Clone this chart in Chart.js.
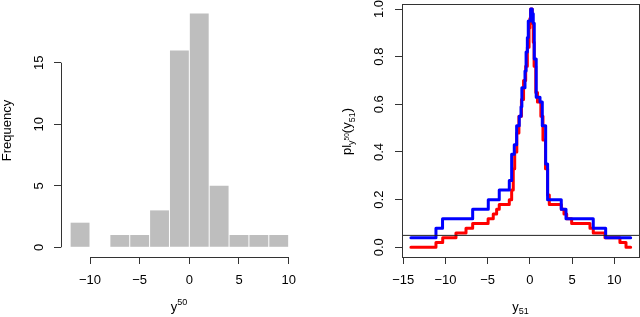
<!DOCTYPE html>
<html>
<head>
<meta charset="utf-8">
<script src="https://cdn.jsdelivr.net/npm/chart.js@4.4.0/dist/chart.umd.min.js"></script>
<style>
  body { margin: 0; background: #fff; }
  #wrap { position: relative; width: 640px; height: 317px; }
  canvas { position: absolute; top: 0; }
</style>
</head>
<body>
<div id="wrap">
  <canvas id="hist" width="320" height="317" style="left:0"></canvas>
  <canvas id="pl" width="320" height="317" style="left:320px"></canvas>
</div>
<script>
// left panel: histogram of y^50
const binEdges = [-12, -10, -8, -6, -4, -2, 0, 2, 4, 6, 8, 10];
const binCounts = [2, 0, 1, 1, 3, 16, 19, 5, 1, 1, 1];
const histXTicks = [-10, -5, 0, 5, 10];
const histYTicks = [0, 5, 10, 15];

// right panel: step curves, each level starts at x[i]
const blueX = [-14.1, -11.13, -10.35, -6.78, -4.93, -3.63, -2.44, -2.16, -1.85, -1.57, -1.26, -1.05, -0.95,
  -0.58, -0.45, -0.3, -0.19, 0.09, 0.28, 0.4, 0.52, 0.75, 1.2, 1.47, 1.87, 2.1, 3.72, 4.28, 7.51, 8.98, 11.94];
const blueY = [0.04, 0.08, 0.12, 0.16, 0.2, 0.24, 0.28, 0.39, 0.43, 0.51, 0.55, 0.59, 0.67,
  0.74, 0.82, 0.88, 0.95, 1.0, 0.98, 0.94, 0.79, 0.63, 0.61, 0.51, 0.35, 0.2, 0.16, 0.12, 0.08, 0.04, 0.04];
const redX = [-14.1, -11.13, -10.33, -8.76, -7.57, -6.78, -4.95, -4.34, -3.94, -3.63, -2.44, -2.16, -1.97,
  -1.8, -1.55, -1.3, -1.0, -0.75, -0.5, -0.3, -0.1, 0.0, 0.09, 0.28, 0.4, 0.5, 0.7, 0.9, 1.3, 1.55, 1.85,
  2.1, 2.3, 3.72, 4.04, 4.36, 4.95, 7.12, 7.51, 8.9, 10.67, 11.39, 11.94];
const redY = [0, 0.02, 0.04, 0.06, 0.08, 0.1, 0.12, 0.14, 0.16, 0.18, 0.2, 0.24, 0.33,
  0.4, 0.48, 0.55, 0.62, 0.7, 0.76, 0.84, 0.92, 0.96, 1.0, 0.94, 0.86, 0.76, 0.65, 0.61, 0.55, 0.45, 0.33,
  0.22, 0.18, 0.16, 0.14, 0.12, 0.1, 0.08, 0.06, 0.04, 0.02, 0, 0];
const threshold = 0.05;
const plXTicks = [-15, -10, -5, 0, 5, 10];
const plYTicks = [0, 0.2, 0.4, 0.6, 0.8, 1.0];

// axis ranges (R style 4% padding)
const histXRange = [-12.92, 10.84], histYRange = [-0.788, 19.77];
const plXRange = [-15.154, 12.93], plYRange = [-0.0407, 1.021];

Chart.defaults.font.family = "'Liberation Sans', Arial, Helvetica, sans-serif";
Chart.defaults.font.size = 13;
Chart.defaults.color = '#000';

const AXIS = '#333';
const minus = v => (v < 0 ? '\u2212' + Math.abs(v) : String(v));
const align = p => Math.round(p - 0.5) + 0.5;

// R draws the axis line only from first to last tick, or a full box
const rAxes = {
  id: 'rAxes',
  afterDraw(chart, args, opts) {
    const {ctx, chartArea: a} = chart;
    const x = chart.scales.x, y = chart.scales.y;
    ctx.save();
    ctx.strokeStyle = AXIS;
    ctx.fillStyle = AXIS;
    ctx.lineWidth = 1;
    if (opts.box) {
      ctx.strokeRect(align(a.left), align(a.top), align(a.right) - align(a.left), align(a.bottom) - align(a.top));
    } else {
      const xa = x.getPixelForValue(histXTicks[0]);
      const xb = x.getPixelForValue(histXTicks[histXTicks.length - 1]);
      const ya = y.getPixelForValue(histYTicks[0]);
      const yb = y.getPixelForValue(histYTicks[histYTicks.length - 1]);
      ctx.fillRect(xa, Math.round(a.bottom), xb - xa, 1);
      ctx.fillRect(Math.round(a.left), Math.min(ya, yb), 1, Math.abs(ya - yb));
    }
    ctx.restore();
  }
};

// axis titles with sub/superscripts: parts = [text, size, dy]
const richTitles = {
  id: 'richTitles',
  afterDraw(chart, args, opts) {
    const {ctx, chartArea: a} = chart;
    const fam = Chart.defaults.font.family;
    (opts.items || []).forEach(it => {
      ctx.save();
      ctx.fillStyle = '#000';
      ctx.textBaseline = 'alphabetic';
      ctx.textAlign = 'left';
      const ws = it.parts.map(p => { ctx.font = p[1] + 'px ' + fam; return ctx.measureText(p[0]).width; });
      const total = ws.reduce((s, w) => s + w, 0);
      if (it.vertical) {
        ctx.translate(a.left - it.offset, (a.top + a.bottom) / 2 + (it.shift || 0));
        ctx.rotate(-Math.PI / 2);
      } else {
        ctx.translate((a.left + a.right) / 2, it.baseline);
      }
      let cx = -total / 2;
      it.parts.forEach((p, i) => {
        ctx.font = p[1] + 'px ' + fam;
        ctx.fillText(p[0], cx, p[2]);
        cx += ws[i];
      });
      ctx.restore();
    });
  }
};

function fixedScale(size, isX) {
  return s => {
    if (isX) s.height = size; else s.width = size;
    s.paddingTop = s.paddingBottom = s.paddingLeft = s.paddingRight = 0;
  };
}
const setTicks = list => s => { s.ticks = list.map(v => ({value: v})); };
const tickGrid = {drawOnChartArea: false, drawTicks: true, tickLength: 7, color: AXIS, lineWidth: 1, offset: false};

new Chart(document.getElementById('hist'), {
  type: 'bar',
  data: {
    datasets: [{
      data: binCounts.map((c, i) => ({x: (binEdges[i] + binEdges[i + 1]) / 2, y: c})),
      backgroundColor: '#bebebe',
      borderWidth: 0,
      barPercentage: 0.95,
      categoryPercentage: 1
    }]
  },
  options: {
    responsive: false,
    animation: false,
    layout: {padding: {top: 4, right: 23, bottom: 0, left: 0}},
    plugins: {
      legend: {display: false},
      tooltip: {enabled: false},
      rAxes: {box: false},
      richTitles: {items: [{parts: [['y', 13, 0], ['50', 9, -6]], baseline: 310.5}]}
    },
    scales: {
      x: {
        type: 'linear', offset: false, min: histXRange[0], max: histXRange[1],
        afterBuildTicks: setTicks(histXTicks), afterFit: fixedScale(60, true),
        grid: tickGrid, border: {display: false},
        ticks: {padding: 9, autoSkip: false, maxRotation: 0, callback: minus}
      },
      y: {
        min: histYRange[0], max: histYRange[1],
        afterBuildTicks: setTicks(histYTicks), afterFit: fixedScale(61, false),
        grid: tickGrid, border: {display: false},
        ticks: {padding: 7, autoSkip: false, minRotation: 90, maxRotation: 90, crossAlign: 'center'},
        title: {display: true, text: 'Frequency', padding: {top: 0, bottom: 0}}
      }
    }
  },
  plugins: [rAxes, richTitles]
});

new Chart(document.getElementById('pl'), {
  type: 'line',
  data: {
    datasets: [
      {
        data: [{x: plXRange[0], y: threshold}, {x: plXRange[1], y: threshold}],
        borderColor: '#222', borderWidth: 1, order: 0
      },
      {
        data: blueX.map((x, i) => ({x, y: blueY[i]})),
        borderColor: '#0000ff', borderWidth: 3, stepped: 'before', order: 1
      },
      {
        data: redX.map((x, i) => ({x, y: redY[i]})),
        borderColor: '#ff0000', borderWidth: 3, stepped: 'before', order: 2
      }
    ]
  },
  options: {
    responsive: false,
    animation: false,
    elements: {point: {radius: 0}, line: {borderJoinStyle: 'round', borderCapStyle: 'round'}},
    layout: {padding: {top: 4, right: 1, bottom: 0, left: 0}},
    plugins: {
      legend: {display: false},
      tooltip: {enabled: false},
      rAxes: {box: true},
      richTitles: {items: [
        {parts: [['y', 13, 0], ['51', 9, 3.5]], baseline: 310.5},
        {vertical: true, offset: 51, shift: 1,
         parts: [['pl', 13, 0], ['y', 9, 2.5], ['50', 6.5, -2.5], ['(', 13, 0], ['y', 13, 0], ['51', 9, 3.5], [')', 13, 0]]}
      ]}
    },
    scales: {
      x: {
        type: 'linear', min: plXRange[0], max: plXRange[1],
        afterBuildTicks: setTicks(plXTicks), afterFit: fixedScale(60, true),
        grid: tickGrid, border: {display: false},
        ticks: {padding: 9, autoSkip: false, maxRotation: 0, callback: minus}
      },
      y: {
        min: plYRange[0], max: plYRange[1],
        afterBuildTicks: setTicks(plYTicks), afterFit: fixedScale(82, false),
        grid: tickGrid, border: {display: false},
        ticks: {padding: 7, autoSkip: false, minRotation: 90, maxRotation: 90, crossAlign: 'center',
                callback: v => v.toFixed(1)}
      }
    }
  },
  plugins: [rAxes, richTitles]
});
</script>
</body>
</html>
